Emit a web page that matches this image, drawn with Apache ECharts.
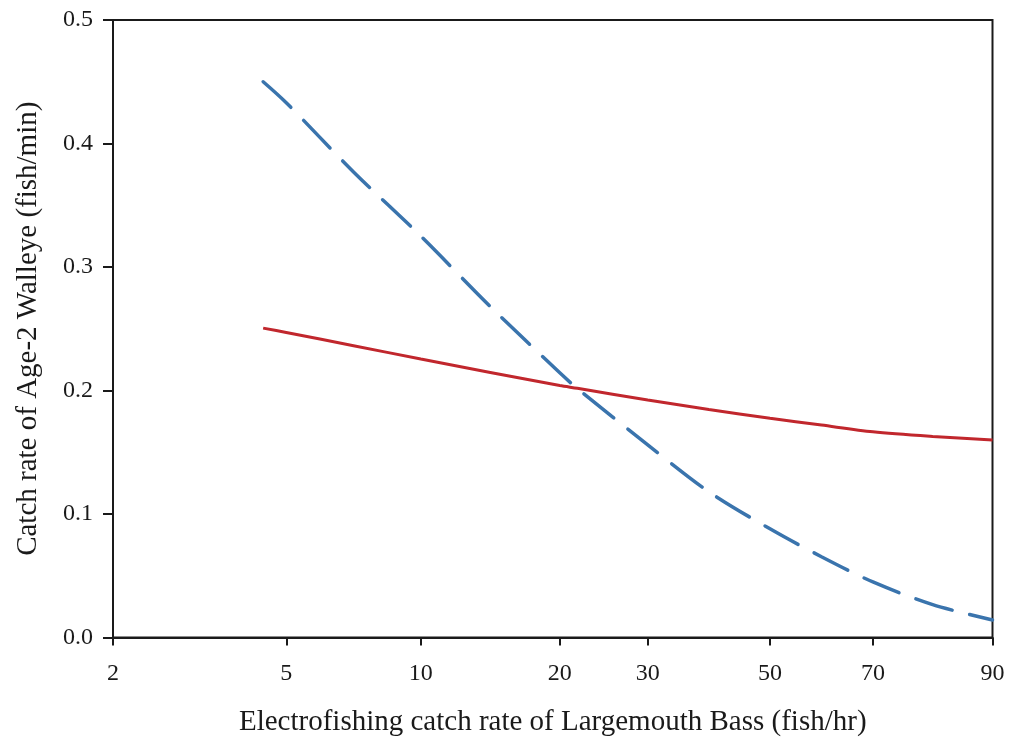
<!DOCTYPE html>
<html>
<head>
<meta charset="utf-8">
<title>Catch rate of Age-2 Walleye vs Largemouth Bass</title>
<script src="https://cdn.jsdelivr.net/npm/echarts@6/dist/echarts.min.js"></script>
<style>
  html, body { margin: 0; padding: 0; background: #ffffff; }
  #chart { width: 1009px; height: 743px; }
</style>
</head>
<body>
<div id="chart"></div>
<script>
// Largemouth Bass electrofishing catch rate (fish/hr) at which the curves are sampled
const bassCatchRate = [4.6, 5, 7.5, 10, 15, 20, 22, 30, 40, 50, 60, 70, 80, 90];

// Predicted Age-2 Walleye catch rate (fish/min)
const walleyeSolid  = [0.2505, 0.247, 0.2363, 0.2255, 0.2146, 0.204, 0.2018, 0.1923, 0.1846, 0.1775, 0.172, 0.1666, 0.1628, 0.1599];
const walleyeDashed = [0.450, 0.433, 0.377, 0.325, 0.268, 0.2143, 0.2016, 0.156, 0.118, 0.088, 0.0654, 0.045, 0.0266, 0.0142];

// X tick labels and the axis-scale breakpoint (0-100 along the axis) of each one
const xTickLabels = [2, 5, 10, 20, 30, 50, 70, 90];
const xTickScale  = [0, 19.7, 35.0, 50.8, 60.8, 74.7, 86.4, 100];

// Y tick labels
const yTickLabels = [0.0, 0.1, 0.2, 0.3, 0.4, 0.5];

// piecewise-linear scale between the labelled breakpoints
function toAxis(x) {
  for (let i = 0; i < xTickLabels.length - 1; i++) {
    const a = xTickLabels[i], b = xTickLabels[i + 1];
    if (x <= b || i === xTickLabels.length - 2) {
      return xTickScale[i] + (x - a) / (b - a) * (xTickScale[i + 1] - xTickScale[i]);
    }
  }
}

function pairs(ys) {
  return bassCatchRate.map((x, i) => [toAxis(x), ys[i]]);
}

const FONT = '"Liberation Serif", "Times New Roman", serif';
const INK = '#1a1a1a';

const chart = echarts.init(document.getElementById('chart'), null, { renderer: 'canvas' });

chart.setOption({
  backgroundColor: '#ffffff',
  animation: false,
  grid: {
    left: 113, right: 16.5, top: 20, bottom: 105.5,
    show: true, borderColor: INK, borderWidth: 2, backgroundColor: 'transparent'
  },
  xAxis: {
    type: 'value',
    min: 0, max: 100,
    name: 'Electrofishing catch rate of Largemouth Bass (fish/hr)',
    nameLocation: 'middle',
    nameGap: 70,
    nameTextStyle: { fontFamily: FONT, fontSize: 29, color: INK },
    axisLine: { show: true, onZero: false, lineStyle: { color: INK, width: 2 } },
    axisTick: {
      show: true, inside: false, length: 8,
      customValues: xTickScale,
      lineStyle: { color: INK, width: 2 }
    },
    axisLabel: {
      show: true, margin: 24,
      customValues: xTickScale,
      fontFamily: FONT, fontSize: 24, color: INK,
      formatter: function (v) {
        const i = xTickScale.findIndex(p => Math.abs(p - v) < 1e-6);
        return i >= 0 ? String(xTickLabels[i]) : '';
      }
    },
    splitLine: { show: false }
  },
  yAxis: {
    type: 'value',
    min: yTickLabels[0], max: yTickLabels[yTickLabels.length - 1], interval: 0.1,
    name: 'Catch rate of Age-2 Walleye (fish/min)',
    nameLocation: 'middle',
    nameGap: 70,
    nameTextStyle: { fontFamily: FONT, fontSize: 29, color: INK },
    axisLine: { show: true, lineStyle: { color: INK, width: 2 } },
    axisTick: { show: true, inside: false, length: 10, lineStyle: { color: INK, width: 2 } },
    axisLabel: {
      margin: 20,
      fontFamily: FONT, fontSize: 24, color: INK,
      formatter: v => v.toFixed(1)
    },
    splitLine: { show: false }
  },
  series: [
    {
      type: 'line',
      data: pairs(walleyeSolid),
      smooth: 0.3,
      showSymbol: false,
      lineStyle: { color: '#c1272d', width: 3 }
    },
    {
      type: 'line',
      data: pairs(walleyeDashed),
      smooth: 0.3,
      showSymbol: false,
      lineStyle: { color: '#3a74ad', width: 3.5, type: [38, 18], cap: 'round' }
    }
  ]
});
</script>
</body>
</html>
